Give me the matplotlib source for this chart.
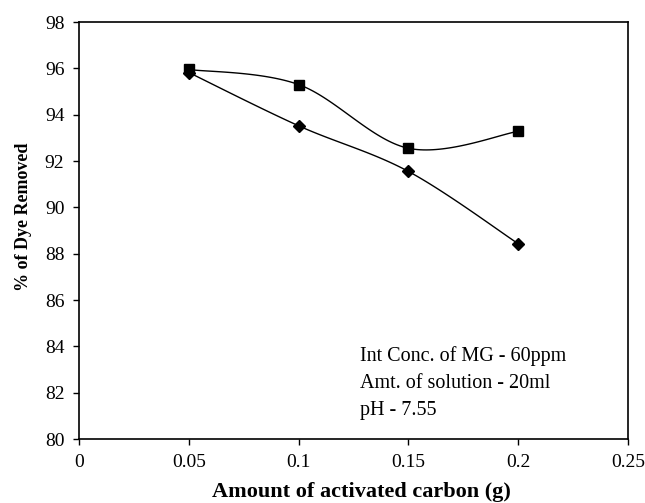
import numpy as np
import matplotlib
matplotlib.use('Agg')
import matplotlib.pyplot as plt

# data
carbon = [0.05, 0.10, 0.15, 0.20]
removed_sq = [95.95, 95.3, 92.55, 93.28]
removed_dm = [95.82, 93.52, 91.55, 88.43]
x_ticks = [0, 0.05, 0.1, 0.15, 0.2, 0.25]
x_labels = ['0', '0.05', '0.1', '0.15', '0.2', '0.25']
y_ticks = list(range(80, 99, 2))
note = 'Int Conc. of MG - 60ppm\nAmt. of solution - 20ml\npH - 7.55'


def smooth(xs, ys, n=40):
    # excel style smoothed line (catmull-rom through the points)
    px = [xs[0]] + list(xs) + [xs[-1]]
    py = [ys[0]] + list(ys) + [ys[-1]]
    outx, outy = [], []
    t = np.linspace(0, 1, n)
    for i in range(1, len(px) - 2):
        p0 = np.array([px[i], py[i]])
        p3 = np.array([px[i + 1], py[i + 1]])
        c1 = p0 + (np.array([px[i + 1], py[i + 1]]) - np.array([px[i - 1], py[i - 1]])) / 6
        c2 = p3 - (np.array([px[i + 2], py[i + 2]]) - np.array([px[i], py[i]])) / 6
        b = ((1 - t) ** 3)[:, None] * p0 + (3 * (1 - t) ** 2 * t)[:, None] * c1 \
            + (3 * (1 - t) * t ** 2)[:, None] * c2 + (t ** 3)[:, None] * p3
        outx.extend(b[:, 0])
        outy.extend(b[:, 1])
    return outx, outy


plt.rcParams['font.family'] = ['Liberation Serif', 'DejaVu Serif']
fig = plt.figure(figsize=(6.45, 5.03), dpi=100)
ax = fig.add_axes([79 / 645, 64 / 503, 549 / 645, 417 / 503])

sx, sy = smooth(carbon, removed_sq)
ax.plot(sx, sy, color='black', lw=1)
ax.plot(carbon, removed_sq, ls='none', marker='s', ms=7, color='black')

dx, dy = smooth(carbon, removed_dm)
ax.plot(dx, dy, color='black', lw=1)
ax.plot(carbon, removed_dm, ls='none', marker='D', ms=6, color='black')

ax.set_xlim(0, 0.25)
ax.set_ylim(80, 98)
ax.set_xticks(x_ticks)
ax.set_xticklabels(x_labels)
ax.set_yticks(y_ticks)
ax.tick_params(direction='out', length=4.5, width=1, labelsize=14, colors='black', pad=6)
for s in ax.spines.values():
    s.set_linewidth(1.2)

ax.set_xlabel('Amount of activated carbon (g)', fontsize=16, fontweight='bold', labelpad=8)
ax.xaxis.label.set_x(0.515)
ax.set_ylabel('% of Dye Removed', fontsize=13, fontweight='bold', labelpad=9)
ax.yaxis.label.set_y(0.532)

ax.text(0.512, 0.134, note, transform=ax.transAxes, fontsize=14.5,
        va='center', ha='left', linespacing=1.6)

fig.savefig('out.png', dpi=100)
